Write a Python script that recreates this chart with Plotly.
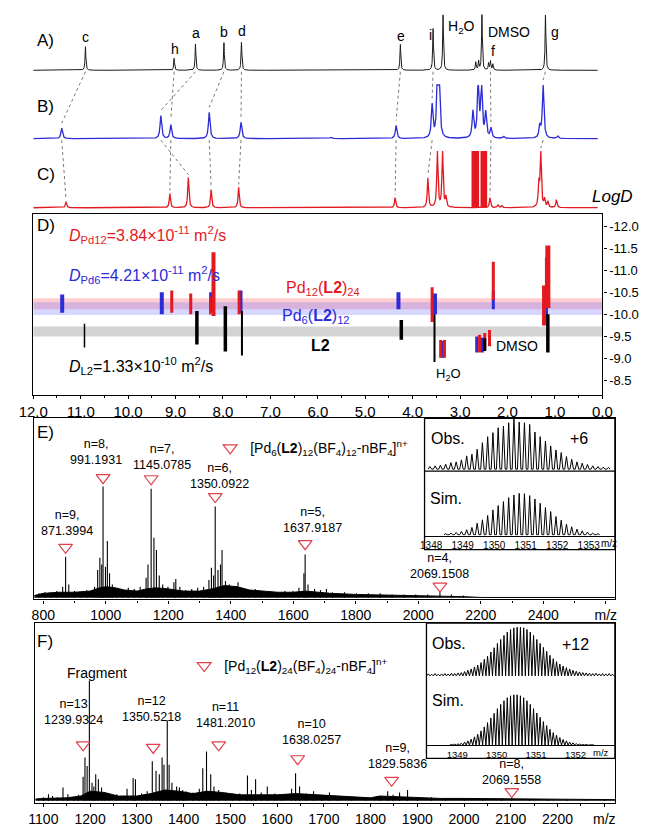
import numpy as np
import plotly.graph_objects as go

W, H = 647, 827
FONT = "Liberation Sans, Arial, sans-serif"
RED = "#e3191f"
BLUE = "#2b2bd8"
TRI = "#e0404a"


def px(x):
    return x / W


def py(y):
    return 1 - y / H


# ---------------- 1H NMR: A) L2, B) Pd6(L2)12, C) Pd12(L2)24 ----------------
peak_labels = ["c", "h", "a", "b", "d", "e", "i", "f", "g"]
A_ppm = [10.90, 9.03, 8.58, 7.98, 7.61, 4.26, 3.57, 2.36, 1.20]
A_int = [24, 12, 26.5, 28, 28, 26, 42, 9, 56]
B_ppm = [11.40, 9.10, 9.31, 8.29, 7.62, 4.35, 3.59, 2.35, 1.25]
B_int = [10.6, 13.9, 23.2, 26.5, 16.5, 13.2, 33, 9.9, 54]
C_ppm = [11.31, 9.12, 8.73, 8.25, 7.67, 4.37, 3.68, 2.37, 1.30]
C_int = [6, 14.2, 30.5, 18.2, 20.5, 10, 29.8, 10, 57]

A_solv_ppm = [3.36, 2.67, 2.61, 2.54, 2.40, 2.31]
A_solv_int = [56, 8, 9, 56, 7, 6]
B_solv_ppm = [3.48, 3.44, 2.73, 2.62, 2.55, 2.46, 2.08, 1.32, 0.94, 5.72]
B_solv_int = [54, 54, 26.5, 54, 54, 24.8, 2, 11.6, 2.5, 1.5]
C_solv_ppm = [3.48, 3.37, 3.30, 1.34, 1.22, 1.15, 0.97, 2.20, 2.12]
C_solv_int = [57, 57, 10, 23, 8, 6, 8, 3, 2]
C_block_lo = [2.60, 2.43]
C_block_hi = [2.76, 2.57]
C_block_int = [57, 57]

# ---------------- DOSY (ppm, logD top, logD bottom, streak width) ----------------
L2_ppm = [10.92, 8.55, 7.95, 7.60, 4.24, 3.54, 2.48, 1.15]
L2_top = [-9.79, -10.08, -10.19, -10.08, -9.88, -10.01, -9.46, -10.01]
L2_bot = [-9.25, -9.32, -9.16, -9.07, -9.43, -8.92, -9.17, -9.14]
L2_w = [1.5, 3.5, 3.5, 2, 3.5, 2, 3, 3.5]

Pd6_ppm = [11.39, 9.29, 8.26, 7.62, 4.30, 3.53, 2.30, 1.19, 3.37, 2.65, 2.53]
Pd6_top = [-10.46, -10.51, -10.51, -10.55, -10.51, -10.48, -10.55, -10.44, -9.40, -9.50, -9.48]
Pd6_bot = [-10.04, -10.01, -10.04, -10.04, -10.12, -10.01, -10.12, -9.97, -9.02, -9.14, -9.14]
Pd6_w = [4, 4, 3, 3, 4, 4, 3, 4, 4, 3, 3]

Pd12_ppm = [9.08, 8.68, 8.20, 8.27, 7.66, 3.59, 2.30, 1.23, 1.15, 1.18, 3.41, 3.33, 2.59, 2.48, 2.38]
Pd12_top = [-10.55, -10.48, -11.42, -10.40, -10.55, -10.62, -11.20, -10.66, -11.57, -11.30,
            -9.42, -9.42, -9.54, -9.58, -9.65]
Pd12_bot = [-10.04, -10.01, -9.97, -10.00, -10.01, -9.83, -10.33, -9.75, -10.15, -10.20,
            -9.02, -9.02, -9.14, -9.21, -9.28]
Pd12_w = [3, 3, 4, 2, 3, 3, 3, 4, 5, 3, 3, 3, 3, 3, 3]

band_lo = [-10.37, -10.28, -9.73]
band_hi = [-10.12, -9.99, -9.50]
band_col = ["rgba(255,120,130,0.38)", "rgba(120,120,255,0.30)", "rgba(170,170,170,0.50)"]

# ---------------- ESI-MS E) Pd6(L2)12 ----------------
E_mz = [786, 805, 824, 843, 862, 871.4, 881.6, 900, 920, 939,
        964, 974, 981, 987, 991.2, 999, 1005, 1012, 1021, 1034,
        1053, 1072, 1091, 1110, 1129, 1135, 1145.1, 1154, 1162, 1171,
        1182, 1199, 1218, 1224, 1237, 1256, 1275, 1294, 1313, 1330,
        1338, 1345, 1350.1, 1359, 1367, 1372, 1383, 1395, 1414, 1423,
        1440, 1459, 1478, 1497, 1522, 1548, 1573, 1599, 1618, 1634,
        1637.9, 1647, 1668, 1687, 1706, 1725, 1764, 1802, 1840, 1878,
        1916, 1954, 1992, 2030, 2069.2, 2106, 2144]
E_int = [4, 5, 4, 6, 10, 37, 12, 6, 5, 7,
         10, 25, 36, 30, 100, 28, 51, 22, 12, 8,
         7, 9, 8, 10, 18, 30, 98, 54, 43, 20,
         12, 10, 14, 17, 10, 7, 8, 9, 10, 16,
         27, 20, 82, 25, 30, 43, 15, 12, 10, 14,
         8, 7, 8, 6, 6, 5, 6, 6, 9, 22,
         39, 12, 8, 7, 8, 5, 5, 4, 4, 4,
         3, 3, 3, 3, 5, 3, 2]
E_grass_mz = [771, 800, 850, 900, 950, 980, 1000, 1030, 1060, 1100, 1130, 1160, 1200, 1250,
              1300, 1340, 1380, 1420, 1460, 1500, 1550, 1600, 1640, 1680, 1720, 1800, 1900,
              2000, 2100, 2150, 2200, 2629]
E_grass_lvl = [2, 4, 5, 5, 6, 9, 10, 9, 7, 6, 8, 9, 8, 6,
               6, 8, 11, 10, 7, 6, 5, 5, 6, 5, 4, 3, 2.5,
               2, 1.5, 1, 0.3, 0.3]
E_tri_mz = [871.4, 991.2, 1145.1, 1350.1, 1637.9, 2069.2]
E_tri_y = [45.4, 108, 107, 91, 48.6, 10.5]
E_lab_mz = [875, 970, 1180, 1364, 1662, 2068]
E_lab_y = [60.2, 123.8, 119.7, 101.9, 63.1, 21.5]
E_lab_n = ["n=9,", "n=8,", "n=7,", "n=6,", "n=5,", "n=4,"]
E_lab_val = ["871.3994", "991.1931", "1145.0785", "1350.0922", "1637.9187", "2069.1508"]
E_ticks = [800, 1000, 1200, 1400, 1600, 1800, 2000, 2200, 2400]

# +6 isotope pattern (inset)
E_obs_start = 1347.96
E_sim_start = 1348.46
E_charge = 6
E_obs_int = [8, 10, 12, 15, 20, 22, 28, 40, 45, 60, 80, 98, 110, 125, 130, 140, 158, 142,
             140, 135, 112, 98, 85, 70, 58, 50, 38, 30, 22, 18, 14, 10, 8, 6, 5]
E_sim_int = [3, 5, 7, 10, 15, 22, 35, 45, 58, 75, 88, 100, 112, 120, 125, 124, 118, 108,
             95, 82, 70, 55, 44, 32, 24, 17, 12, 8, 5, 3]
E_inset_ticks = [1348, 1349, 1350, 1351, 1352, 1353]

# ---------------- ESI-MS F) Pd12(L2)24 ----------------
F_mz = [1090, 1100, 1111, 1119.5, 1130, 1142, 1152.5, 1165, 1175, 1185,
        1189, 1193.6, 1198.4, 1204, 1208, 1212, 1217.7, 1224.5, 1232, 1240,
        1257, 1279, 1292, 1297, 1310, 1322, 1333, 1341, 1348, 1354,
        1358, 1365, 1369, 1375, 1385, 1391, 1398, 1405, 1420, 1433.6,
        1441, 1449, 1458, 1465, 1475, 1490, 1505, 1520, 1536.6, 1545,
        1554, 1566, 1579, 1595, 1610, 1631, 1639.5, 1648, 1662, 1678,
        1695, 1712, 1730, 1760, 1790, 1820, 1836.6, 1848, 1862, 1879,
        1900, 1930, 1960, 2000, 2040, 2080, 2102, 2140, 2180, 2220,
        2260, 2300]
F_int = [2, 3, 5.5, 4, 3, 11, 5.5, 3, 5, 20,
         36, 29, 100, 15, 12, 22, 18, 11, 7, 5,
         5.5, 10, 19, 18, 6, 8, 33, 25, 22, 36,
         30, 67, 30, 15, 12, 11, 9, 8, 7, 10,
         27, 41, 22, 12, 9, 7, 6, 6, 21, 9,
         18, 7, 12, 6, 5, 10, 23, 12, 6, 8,
         5, 7, 4, 3, 3, 4, 8, 5, 7, 9,
         3, 3, 2, 2, 2, 2, 2.5, 1.5, 1.5, 1.2,
         1, 1]
F_grass_mz = [1083, 1100, 1150, 1180, 1200, 1230, 1260, 1300, 1330, 1360, 1390, 1420, 1450,
              1480, 1520, 1560, 1600, 1640, 1680, 1720, 1760, 1800, 1820, 1860, 1900, 1950,
              2000, 2100, 2200, 2323]
F_grass_lvl = [1.5, 2, 2.5, 4, 8, 7, 4, 4, 6, 9, 8, 6, 8,
               7, 5, 5, 5, 6, 5, 4, 3, 2.5, 4, 3.5, 2.5, 2,
               2, 1.5, 1.2, 1]
F_tri_mz = [1185, 1335, 1475, 1644, 1845, 2102]
F_tri_y = [46.6, 44.4, 46.6, 35, 17, 7.7]
F_lab_mz = [1163.6, 1332, 1489, 1673.7, 1858, 2102]
F_lab_y = [67.1, 69.8, 64.4, 50.7, 31, 17]
F_lab_n = ["n=13", "n=12", "n=11", "n=10", "n=9,", "n=8,"]
F_lab_val = ["1239.9324", "1350.5218", "1481.2010", "1638.0257", "1829.5836", "2069.1558"]
F_ticks = [1100, 1200, 1300, 1400, 1500, 1600, 1700, 1800, 1900, 2000, 2100, 2200]

# +12 isotope pattern (inset)
F_obs_start = 1348.27
F_sim_start = 1348.853
F_charge = 12
F_obs_int = [6, 5, 7, 5, 6, 7, 6, 8, 7, 9, 10, 13, 17, 21, 27, 33, 40, 50, 60, 72,
             85, 98, 110, 122, 132, 140, 145, 147, 147, 145, 140, 132, 122, 110, 98, 86,
             74, 62, 52, 43, 36, 30, 25, 21, 17, 14, 12, 10, 9, 8, 7, 8, 6, 7, 6, 7, 5]
F_sim_int = [2, 3, 4, 6, 9, 13, 18, 25, 33, 43, 55, 68, 82, 96, 110, 123, 134, 143, 149,
             152, 152, 149, 143, 134, 123, 110, 97, 84, 71, 59, 48, 38, 30, 23, 17, 13, 9,
             7, 5, 3, 2, 2, 1, 1]
F_inset_ticks = [1349, 1350, 1351, 1352]

# =====================================================================
fig = go.Figure()

# ---- top 1D spectra (x2 / y2, y in pixel-like intensity units) ----
A_base, B_base, C_base = 145.0, 76.2, 6.7
grid = np.linspace(12.0, 0.1, 6000)


def lorentz(ppm, inten, w):
    y = np.zeros_like(grid)
    for p, h in zip(ppm, inten):
        y += h / (1 + ((grid - p) / w) ** 2)
    return y


specA = np.minimum(lorentz(A_ppm + A_solv_ppm, A_int + A_solv_int, 0.010), 56)
specB = np.minimum(lorentz(B_ppm + B_solv_ppm, B_int + B_solv_int, 0.02), 54)
specC = np.minimum(lorentz(C_ppm + C_solv_ppm, C_int + C_solv_int, 0.015), 57)


def at(spec, p):
    return float(np.interp(p, grid[::-1], spec[::-1]))


# dotted connectors
cx, cy = [], []
for i in range(len(peak_labels)):
    cx += [A_ppm[i], B_ppm[i], None]
    cy += [A_base - 1.5, B_base + at(specB, B_ppm[i]) + 5, None]
    cx += [B_ppm[i], C_ppm[i], None]
    cy += [B_base - 1.5, C_base + at(specC, C_ppm[i]) + 3, None]
fig.add_trace(go.Scatter(x=cx, y=cy, mode="lines", xaxis="x2", yaxis="y2",
                         line=dict(color="#777777", width=1, dash="dot"),
                         showlegend=False, hoverinfo="skip"))

fig.add_trace(go.Scatter(x=grid, y=A_base + specA, mode="lines", xaxis="x2", yaxis="y2",
                         line=dict(color="#1a1a1a", width=1), showlegend=False, hoverinfo="skip"))
fig.add_trace(go.Scatter(x=grid, y=B_base + specB, mode="lines", xaxis="x2", yaxis="y2",
                         line=dict(color=BLUE, width=1.3), showlegend=False, hoverinfo="skip"))
fig.add_trace(go.Scatter(x=grid, y=C_base + specC, mode="lines", xaxis="x2", yaxis="y2",
                         line=dict(color=RED, width=1.3), showlegend=False, hoverinfo="skip"))
fig.add_trace(go.Bar(x=[(lo + hi) / 2 for lo, hi in zip(C_block_lo, C_block_hi)],
                     width=[hi - lo for lo, hi in zip(C_block_lo, C_block_hi)],
                     y=C_block_int, base=[C_base] * len(C_block_int),
                     xaxis="x2", yaxis="y2", marker=dict(color=RED, line=dict(width=0)),
                     showlegend=False, hoverinfo="skip"))


# ---- DOSY streaks ----
def streaks(ppm, top, bot, widths, color):
    for p, t, b, w in zip(ppm, top, bot, widths):
        fig.add_trace(go.Scatter(x=[p, p], y=[t, b], mode="lines", xaxis="x", yaxis="y",
                                 line=dict(color=color, width=w),
                                 showlegend=False, hoverinfo="skip"))


streaks(Pd6_ppm, Pd6_top, Pd6_bot, Pd6_w, BLUE)
streaks(Pd12_ppm, Pd12_top, Pd12_bot, Pd12_w, RED)
streaks(L2_ppm, L2_top, L2_bot, L2_w, "black")

shapes = []
for lo, hi, col in zip(band_lo, band_hi, band_col):
    shapes.append(dict(type="rect", xref="x", yref="y", x0=12, x1=0, y0=lo, y1=hi,
                       fillcolor=col, line=dict(width=0), layer="below"))


# ---- mass spectra ----
def sticks(mz, inten):
    xs, ys = [], []
    for m, h in zip(mz, inten):
        xs += [m, m, None]
        ys += [0, h, None]
    return xs, ys


def profile(start, charge, inten, frac):
    step = 1.0 / charge
    half = step * frac
    xs, ys = [], []
    for k, h in enumerate(inten):
        m = start + k * step
        xs += [m - half, m, m + half]
        ys += [0, h, 0]
    return xs, ys


for (gmz, glv, mz, it, xa, ya) in [(E_grass_mz, E_grass_lvl, E_mz, E_int, "x3", "y3"),
                                   (F_grass_mz, F_grass_lvl, F_mz, F_int, "x6", "y6")]:
    fig.add_trace(go.Scatter(x=gmz, y=glv, mode="lines", fill="tozeroy", fillcolor="black",
                             line=dict(color="black", width=1), xaxis=xa, yaxis=ya,
                             showlegend=False, hoverinfo="skip"))
    sx, sy = sticks(mz, it)
    fig.add_trace(go.Scatter(x=sx, y=sy, mode="lines", line=dict(color="black", width=1.1),
                             xaxis=xa, yaxis=ya, showlegend=False, hoverinfo="skip"))

fig.add_trace(go.Scatter(
    x=E_tri_mz, y=E_tri_y, mode="markers", xaxis="x3", yaxis="y3", legend="legend",
    name="[Pd<sub>6</sub>(<b>L2</b>)<sub>12</sub>(BF<sub>4</sub>)<sub>12</sub>-nBF<sub>4</sub>]<sup>n+</sup>",
    marker=dict(symbol="triangle-down-open", size=12, color=TRI, line=dict(width=1.2, color=TRI)),
    hoverinfo="skip"))
fig.add_trace(go.Scatter(
    x=F_tri_mz, y=F_tri_y, mode="markers", xaxis="x6", yaxis="y6", legend="legend2",
    name="[Pd<sub>12</sub>(<b>L2</b>)<sub>24</sub>(BF<sub>4</sub>)<sub>24</sub>-nBF<sub>4</sub>]<sup>n+</sup>",
    marker=dict(symbol="triangle-down-open", size=12, color=TRI, line=dict(width=1.2, color=TRI)),
    hoverinfo="skip"))

# insets
for (st, ch, it, fr, xa, ya) in [(E_obs_start, E_charge, E_obs_int, 0.33, "x4", "y4"),
                                 (E_sim_start, E_charge, E_sim_int, 0.33, "x5", "y5"),
                                 (F_obs_start, F_charge, F_obs_int, 0.5, "x7", "y7"),
                                 (F_sim_start, F_charge, F_sim_int, 0.5, "x8", "y8")]:
    ix, iy = profile(st, ch, it, fr)
    fig.add_trace(go.Scatter(x=ix, y=iy, mode="lines", line=dict(color="black", width=1),
                             xaxis=xa, yaxis=ya, showlegend=False, hoverinfo="skip"))

# inset boxes
for (x0, x1, y0, y1) in [(426, 624, 421, 553), (428, 624, 627, 763)]:
    shapes.append(dict(type="rect", xref="paper", yref="paper", x0=px(x0), x1=px(x1),
                       y0=py(y1), y1=py(y0), line=dict(color="black", width=1.3)))
shapes.append(dict(type="line", xref="paper", yref="paper", x0=px(426), x1=px(624),
                   y0=py(474), y1=py(474), line=dict(color="black", width=1.2)))

# ---- annotations ----
ann = []


def txt(x, y, s, size=14, color="black", xanchor="center", ref="paper", xr=None, yr=None,
        yanchor="middle", yshift=0):
    if ref == "paper":
        ann.append(dict(x=px(x), y=py(y), xref="paper", yref="paper", text=s, showarrow=False,
                        font=dict(family=FONT, size=size, color=color), xanchor=xanchor,
                        yanchor=yanchor))
    else:
        ann.append(dict(x=x, y=y, xref=xr, yref=yr, text=s, showarrow=False, yshift=yshift,
                        font=dict(family=FONT, size=size, color=color), xanchor=xanchor,
                        yanchor=yanchor, borderpad=0))


txt(32, 41, "A)", 17)
txt(32, 107, "B)", 17)
txt(32, 176, "C)", 17)
for lab, (lx, ly) in zip(peak_labels, [(73, 37.6), (166, 49.5), (188, 33.6), (217.5, 32),
                                      (236, 31), (401.4, 36.3), (431.8, 35.3), (497.5, 51.8),
                                      (561.5, 32)]):
    txt(lx, ly, lab, 14)
txt(448, 27, "H<sub>2</sub>O", 14, xanchor="left")
txt(490, 32, "DMSO", 14, xanchor="left")
txt(645, 198, "<i>LogD</i>", 17, xanchor="right")

txt(21, 227, "D)", 17, xanchor="left")
txt(54, 236, "<i>D</i><sub>Pd12</sub>=3.84×10<sup>-11</sup> m<sup>2</sup>/s", 16, RED, "left")
txt(54, 277, "<i>D</i><sub>Pd6</sub>=4.21×10<sup>-11</sup> m<sup>2</sup>/s", 16, BLUE, "left")
txt(320, 290, "Pd<sub>12</sub>(<b>L2</b>)<sub>24</sub>", 16, RED)
txt(313, 318, "Pd<sub>6</sub>(<b>L2</b>)<sub>12</sub>", 16, BLUE)
txt(318, 348, "<b>L2</b>", 16)
txt(54, 368, "<i>D</i><sub>L2</sub>=1.33×10<sup>-10</sup> m<sup>2</sup>/s", 16, "black", "left")
txt(451, 377, "H<sub>2</sub>O", 13)
txt(498, 348, "DMSO", 14, xanchor="left")

txt(21, 435, "E)", 17, xanchor="left")
for x, y, n, v in zip(E_lab_mz, E_lab_y, E_lab_n, E_lab_val):
    txt(x, y, n + "<br>" + v, 12.5, ref="data", xr="x3", yr="y3", yanchor="bottom", yshift=-8)
txt(431, 441, "Obs.", 16, xanchor="left")
txt(587, 441, "+6", 16)
txt(430, 502, "Sim.", 16, xanchor="left")
txt(607, 547, "m/z", 10, xanchor="left")

txt(21, 645, "F)", 17, xanchor="left")
txt(85, 677, "Fragment", 14)
for x, y, n, v in zip(F_lab_mz, F_lab_y, F_lab_n, F_lab_val):
    txt(x, y, n + "<br>" + v, 12.5, ref="data", xr="x6", yr="y6", yanchor="bottom", yshift=-8)
txt(432, 647, "Obs.", 16, xanchor="left")
txt(583, 648, "+12", 16)
txt(432, 705, "Sim.", 16, xanchor="left")
txt(610, 757, "m/z", 9.5)

# ---- axes ----
tf = dict(family=FONT, size=14, color="black")
hidden = dict(visible=False)
box = dict(showline=True, mirror=True, linecolor="black", linewidth=1.3, showgrid=False,
           zeroline=False)

layout = dict(
    width=W, height=H, margin=dict(l=0, r=0, t=0, b=0), autosize=False,
    paper_bgcolor="white", plot_bgcolor="rgba(0,0,0,0)", font=dict(family=FONT),
    barmode="overlay", shapes=shapes, annotations=ann,
    xaxis=dict(domain=[px(19), px(611)], range=[12, 0], anchor="y",
               tickvals=list(range(12, -1, -1)), ticktext=[f"{v:.1f}" for v in range(12, -1, -1)],
               ticks="outside", ticklen=3, tickcolor="black",
               tickfont=dict(family=FONT, size=15, color="black"),
               minor=dict(ticks="outside", ticklen=2, dtick=0.5, tickcolor="black"), **box),
    yaxis=dict(domain=[py(397), py(215.7)], range=[-8.18, -12.28], anchor="x", side="right",
               tickvals=[-12, -11.5, -11, -10.5, -10, -9.5, -9, -8.5],
               ticktext=["-12.0", "-11.5", "-11.0", "-10.5", "-10.0", "-9.5", "-9.0", "-8.5"],
               ticks="outside", ticklen=3, tickcolor="black",
               tickfont=dict(family=FONT, size=13, color="black"), **box),
    xaxis2=dict(domain=[px(19), px(611)], range=[12, 0], anchor="y2", **hidden),
    yaxis2=dict(domain=[py(215.7), 1], range=[0, 215.7], anchor="x2", **hidden),
    xaxis3=dict(domain=[px(20), px(624)], range=[771, 2629], anchor="y3",
                tickvals=E_ticks + [2600], ticktext=[str(t) for t in E_ticks] + ["m/z"],
                ticks="outside", ticklen=3, tickcolor="black", tickfont=tf,
                minor=dict(ticks="outside", ticklen=2, dtick=100, tickcolor="black"), **box),
    yaxis3=dict(domain=[py(603), py(421)], range=[-1.4, 161.2], anchor="x3",
                showticklabels=False, ticks="", **box),
    xaxis4=dict(domain=[px(426), px(624)], range=[1347.79, 1353.83], anchor="y4", **hidden),
    yaxis4=dict(domain=[py(474), py(421)], range=[-6, 153], anchor="x4", **hidden),
    xaxis5=dict(domain=[px(426), px(624)], range=[1347.79, 1353.83], anchor="y5",
                tickvals=E_inset_ticks, ticktext=[str(t) for t in E_inset_ticks], ticks="",
                tickfont=dict(family=FONT, size=10, color="black"), showline=True,
                linecolor="black", linewidth=1, showgrid=False, zeroline=False),
    yaxis5=dict(domain=[py(539), py(474)], range=[-3, 192], anchor="x5", **hidden),
    xaxis6=dict(domain=[px(21), px(624)], range=[1082.5, 2322.6], anchor="y6",
                tickvals=F_ticks + [2300], ticktext=[str(t) for t in F_ticks] + ["m/z"],
                ticks="outside", ticklen=3, tickcolor="black", tickfont=tf,
                minor=dict(ticks="outside", ticklen=2, dtick=50, tickcolor="black"), **box),
    yaxis6=dict(domain=[py(808), py(627)], range=[-1.9, 147.7], anchor="x6",
                showticklabels=False, ticks="", **box),
    xaxis7=dict(domain=[px(428), px(624)], range=[1348.22, 1353.0], anchor="y7", **hidden),
    yaxis7=dict(domain=[py(690), py(627)], range=[-30, 159], anchor="x7", **hidden),
    xaxis8=dict(domain=[px(428), px(624)], range=[1348.22, 1353.0], anchor="y8",
                tickvals=F_inset_ticks, ticktext=[str(t) for t in F_inset_ticks], ticks="",
                tickfont=dict(family=FONT, size=9.5, color="black"), showline=True,
                linecolor="black", linewidth=1, showgrid=False, zeroline=False),
    yaxis8=dict(domain=[py(750), py(690)], range=[-1, 179], anchor="x8", **hidden),
    legend=dict(x=px(203), y=py(451), xanchor="left", yanchor="middle",
                bgcolor="rgba(0,0,0,0)", font=dict(family=FONT, size=14, color="black")),
    legend2=dict(x=px(176), y=py(670), xanchor="left", yanchor="middle",
                 bgcolor="rgba(0,0,0,0)", font=dict(family=FONT, size=14, color="black")),
)
fig.update_layout(**layout)
fig.write_html("out.html", config={"displayModeBar": False},
               post_script="document.body.style.margin='0';"
                           "document.body.style.overflow='hidden';")
